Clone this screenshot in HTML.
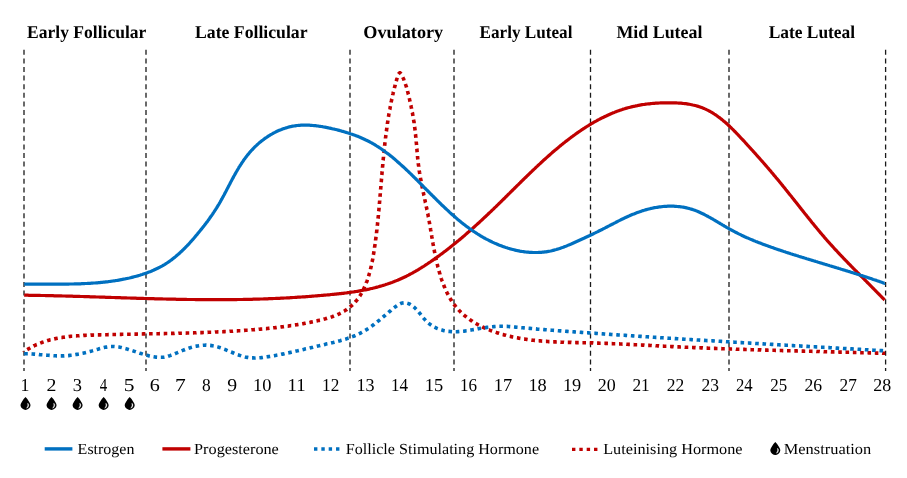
<!DOCTYPE html><html><head><meta charset="utf-8"><style>html,body{margin:0;padding:0;background:#fff;overflow:hidden}svg{display:block;will-change:transform;text-rendering:geometricPrecision}</style></head><body>
<svg width="907" height="478" viewBox="0 0 907 478">
<rect width="907" height="478" fill="#fff"/>
<line x1="24.0" y1="49.8" x2="24.0" y2="370.9" stroke="#1a1a1a" stroke-width="1.3" stroke-dasharray="5 3.6"/>
<line x1="146.0" y1="49.8" x2="146.0" y2="370.9" stroke="#1a1a1a" stroke-width="1.3" stroke-dasharray="5 3.6"/>
<line x1="350.0" y1="49.8" x2="350.0" y2="370.9" stroke="#1a1a1a" stroke-width="1.3" stroke-dasharray="5 3.6"/>
<line x1="454.0" y1="49.8" x2="454.0" y2="370.9" stroke="#1a1a1a" stroke-width="1.3" stroke-dasharray="5 3.6"/>
<line x1="590.5" y1="49.8" x2="590.5" y2="370.9" stroke="#1a1a1a" stroke-width="1.3" stroke-dasharray="5 3.6"/>
<line x1="729.0" y1="49.8" x2="729.0" y2="370.9" stroke="#1a1a1a" stroke-width="1.3" stroke-dasharray="5 3.6"/>
<line x1="885.6" y1="49.8" x2="885.6" y2="370.9" stroke="#1a1a1a" stroke-width="1.3" stroke-dasharray="5 3.6"/>
<path d="M24.0 352.3L24.2 351.7L24.7 351.3L25.2 351.0L25.7 350.6L26.2 350.3L26.8 349.9L27.3 349.6L27.8 349.3L28.3 349.0L28.8 348.6L29.4 348.3L29.9 348.0L30.4 347.7L31.0 347.4L31.5 347.1L32.0 346.9L32.6 346.6L33.1 346.3L33.6 346.0L34.2 345.8L34.7 345.5L35.2 345.2L35.8 345.0L36.3 344.7L36.9 344.5L37.4 344.3L38.0 344.0L38.5 343.8L39.1 343.6L39.6 343.3L40.2 343.1L40.7 342.9L41.3 342.7L41.8 342.5L42.4 342.3L43.0 342.1L43.5 341.9L44.1 341.7L44.6 341.5L45.2 341.3L45.8 341.2L46.3 341.0L46.9 340.8L47.5 340.6L48.0 340.5L48.6 340.3L49.2 340.2L49.7 340.0L50.3 339.8L50.9 339.7L51.5 339.6L52.0 339.4L52.6 339.3L53.2 339.1L53.8 339.0L54.3 338.9L54.9 338.7L55.5 338.6L56.1 338.5L56.7 338.4L57.2 338.3L57.8 338.2L58.4 338.1L59.0 337.9L59.6 337.8L60.2 337.7L60.7 337.6L61.3 337.5L61.9 337.5L62.5 337.4L63.1 337.3L63.7 337.2L64.3 337.1L64.9 337.0L65.5 336.9L66.1 336.9L66.6 336.8L67.2 336.7L67.8 336.7L68.4 336.6L69.0 336.5L69.6 336.5L70.2 336.4L70.8 336.3L71.4 336.3L72.0 336.2L72.6 336.2L73.2 336.1L73.8 336.1L74.4 336.0L75.0 336.0L75.6 335.9L76.2 335.9L76.8 335.8L77.4 335.8L78.0 335.7L78.6 335.7L79.2 335.7L79.8 335.6L80.4 335.6L81.0 335.6L81.6 335.5L82.2 335.5L82.8 335.5L83.4 335.4L84.0 335.4L84.6 335.4L85.2 335.4L85.8 335.3L86.4 335.3L87.0 335.3L87.7 335.3L88.3 335.2L88.9 335.2L89.5 335.2L90.1 335.2L90.7 335.1L91.3 335.1L91.9 335.1L92.5 335.1L93.1 335.1L93.7 335.0L94.3 335.0L94.9 335.0L95.5 335.0L96.1 335.0L96.7 335.0L97.3 334.9L97.9 334.9L98.5 334.9L99.1 334.9L99.7 334.9L100.3 334.9L100.9 334.8L101.5 334.8L102.1 334.8L102.8 334.8L103.4 334.8L104.0 334.8L104.6 334.7L105.2 334.7L105.8 334.7L106.4 334.7L107.0 334.7L107.6 334.7L108.2 334.6L108.8 334.6L109.4 334.6L110.0 334.6L110.6 334.6L111.2 334.6L111.8 334.6L112.4 334.5L113.0 334.5L113.6 334.5L114.2 334.5L114.8 334.5L115.4 334.5L116.0 334.5L116.6 334.5L117.2 334.4L117.8 334.4L118.4 334.4L119.0 334.4L119.6 334.4L120.2 334.4L120.8 334.4L121.4 334.4L122.0 334.3L122.6 334.3L123.2 334.3L123.8 334.3L124.4 334.3L125.0 334.3L125.6 334.3L126.2 334.3L126.8 334.2L127.4 334.2L128.0 334.2L128.6 334.2L129.2 334.2L129.8 334.2L130.4 334.2L131.0 334.2L131.6 334.2L132.2 334.1L132.8 334.1L133.4 334.1L134.0 334.1L134.6 334.1L135.2 334.1L135.8 334.1L136.4 334.1L137.0 334.1L137.6 334.0L138.2 334.0L138.8 334.0L139.4 334.0L140.0 334.0L140.6 334.0L141.2 334.0L141.8 334.0L142.4 334.0L143.0 333.9L143.6 333.9L144.2 333.9L144.8 333.9L145.4 333.9L146.0 333.9L146.6 333.9L147.2 333.9L147.8 333.9L148.4 333.9L149.0 333.8L149.6 333.8L150.2 333.8L150.8 333.8L151.4 333.8L152.0 333.8L152.6 333.8L153.2 333.8L153.8 333.8L154.4 333.7L155.0 333.7L155.6 333.7L156.2 333.7L156.8 333.7L157.4 333.7L158.0 333.7L158.6 333.7L159.2 333.7L159.8 333.6L160.4 333.6L161.0 333.6L161.6 333.6L162.2 333.6L162.7 333.6L163.3 333.6L163.9 333.6L164.5 333.6L165.1 333.5L165.7 333.5L166.3 333.5L166.9 333.5L167.5 333.5L168.1 333.5L168.7 333.5L169.3 333.5L169.9 333.4L170.5 333.4L171.1 333.4L171.7 333.4L172.3 333.4L172.9 333.4L173.5 333.4L174.1 333.4L174.7 333.3L175.3 333.3L175.9 333.3L176.5 333.3L177.1 333.3L177.7 333.3L178.3 333.3L178.9 333.2L179.5 333.2L180.1 333.2L180.7 333.2L181.3 333.2L181.9 333.2L182.5 333.2L183.1 333.1L183.7 333.1L184.3 333.1L184.9 333.1L185.5 333.1L186.1 333.1L186.7 333.0L187.3 333.0L187.9 333.0L188.5 333.0L189.0 333.0L189.6 333.0L190.2 332.9L190.8 332.9L191.4 332.9L192.0 332.9L192.6 332.9L193.2 332.9L193.8 332.8L194.4 332.8L195.0 332.8L195.6 332.8L196.2 332.8L196.8 332.7L197.4 332.7L198.0 332.7L198.6 332.7L199.2 332.7L199.8 332.6L200.4 332.6L201.0 332.6L201.6 332.6L202.2 332.6L202.8 332.5L203.4 332.5L204.0 332.5L204.6 332.5L205.2 332.5L205.8 332.4L206.4 332.4L207.0 332.4L207.6 332.4L208.2 332.3L208.8 332.3L209.4 332.3L210.0 332.3L210.6 332.2L211.2 332.2L211.8 332.2L212.4 332.2L213.0 332.1L213.6 332.1L214.2 332.1L214.8 332.1L215.4 332.0L216.0 332.0L216.6 332.0L217.2 332.0L217.8 331.9L218.3 331.9L218.9 331.9L219.5 331.8L220.1 331.8L220.7 331.8L221.3 331.8L221.9 331.7L222.5 331.7L223.1 331.7L223.7 331.6L224.3 331.6L224.9 331.6L225.5 331.5L226.1 331.5L226.7 331.5L227.3 331.5L227.9 331.4L228.5 331.4L229.1 331.4L229.7 331.3L230.3 331.3L230.9 331.3L231.5 331.2L232.1 331.2L232.7 331.2L233.3 331.1L233.9 331.1L234.5 331.0L235.1 331.0L235.7 331.0L236.3 330.9L236.9 330.9L237.5 330.9L238.1 330.8L238.7 330.8L239.3 330.7L239.9 330.7L240.5 330.7L241.1 330.6L241.7 330.6L242.3 330.5L242.9 330.5L243.5 330.5L244.1 330.4L244.7 330.4L245.3 330.3L245.9 330.3L246.5 330.2L247.1 330.2L247.7 330.2L248.3 330.1L248.9 330.1L249.5 330.0L250.1 330.0L250.7 329.9L251.3 329.9L251.9 329.8L252.5 329.8L253.1 329.7L253.7 329.7L254.3 329.6L254.9 329.6L255.5 329.5L256.1 329.5L256.7 329.4L257.3 329.4L258.0 329.3L258.6 329.3L259.2 329.2L259.8 329.2L260.4 329.1L261.0 329.1L261.6 329.0L262.2 329.0L262.8 328.9L263.4 328.9L264.0 328.8L264.6 328.8L265.2 328.7L265.8 328.6L266.4 328.6L267.0 328.5L267.6 328.5L268.2 328.4L268.8 328.3L269.4 328.3L270.0 328.2L270.6 328.2L271.2 328.1L271.8 328.0L272.4 328.0L273.0 327.9L273.6 327.8L274.2 327.8L274.8 327.7L275.4 327.6L276.0 327.6L276.6 327.5L277.2 327.4L277.8 327.4L278.4 327.3L279.0 327.2L279.6 327.2L280.2 327.1L280.8 327.0L281.4 326.9L282.0 326.9L282.6 326.8L283.2 326.7L283.8 326.6L284.4 326.5L285.0 326.5L285.6 326.4L286.2 326.3L286.8 326.2L287.4 326.1L288.0 326.1L288.6 326.0L289.2 325.9L289.8 325.8L290.4 325.7L291.0 325.6L291.6 325.6L292.2 325.5L292.7 325.4L293.3 325.3L293.9 325.2L294.5 325.1L295.1 325.0L295.7 324.9L296.3 324.8L296.9 324.7L297.5 324.6L298.1 324.5L298.7 324.4L299.3 324.3L299.9 324.2L300.4 324.1L301.0 324.0L301.6 323.9L302.2 323.8L302.8 323.7L303.4 323.6L304.0 323.5L304.6 323.4L305.2 323.3L305.7 323.2L306.3 323.1L306.9 323.0L307.5 322.8L308.1 322.7L308.7 322.6L309.3 322.5L309.8 322.4L310.4 322.3L311.0 322.1L311.6 322.0L312.2 321.9L312.8 321.8L313.3 321.7L313.9 321.5L314.5 321.4L315.1 321.3L315.6 321.1L316.2 321.0L316.8 320.9L317.4 320.8L318.0 320.6L318.5 320.5L319.1 320.4L319.7 320.2L320.3 320.1L320.8 319.9L321.4 319.8L322.0 319.7L322.6 319.5L323.1 319.4L323.7 319.2L324.3 319.1L324.8 318.9L325.4 318.8L326.0 318.6L326.5 318.5L327.1 318.3L327.7 318.2L328.2 318.0L328.8 317.8L329.4 317.7L329.9 317.5L330.5 317.3L331.1 317.1L331.6 316.9L332.2 316.7L332.7 316.5L333.3 316.3L333.9 316.1L334.4 315.9L335.0 315.7L335.5 315.5L336.1 315.3L336.6 315.0L337.2 314.8L337.8 314.5L338.3 314.3L338.9 314.0L339.4 313.8L340.0 313.5L340.5 313.2L341.1 312.9L341.6 312.6L342.1 312.3L342.7 312.0L343.2 311.7L343.7 311.4L344.3 311.1L344.8 310.7L345.3 310.4L345.8 310.1L346.4 309.7L346.9 309.4L347.4 309.0L347.9 308.6L348.4 308.3L348.9 307.9L349.4 307.5L349.8 307.1L350.3 306.7L350.8 306.3L351.3 305.9L351.7 305.5L352.2 305.1L352.6 304.7L353.1 304.3L353.5 303.9L353.9 303.5L354.3 303.0L354.7 302.6L355.1 302.2L355.5 301.7L355.9 301.3L356.3 300.8L356.7 300.4L357.1 299.9L357.4 299.4L357.8 299.0L358.1 298.5L358.5 298.0L358.8 297.5L359.1 297.1L359.4 296.6L359.8 296.1L360.1 295.6L360.4 295.1L360.7 294.6L361.0 294.1L361.3 293.6L361.6 293.1L361.8 292.6L362.1 292.1L362.4 291.6L362.7 291.0L362.9 290.5L363.2 290.0L363.4 289.5L363.7 288.9L363.9 288.4L364.2 287.9L364.4 287.3L364.7 286.8L364.9 286.3L365.1 285.7L365.4 285.2L365.6 284.6L365.8 284.1L366.0 283.5L366.2 283.0L366.4 282.4L366.7 281.9L366.9 281.3L367.1 280.8L367.3 280.2L367.5 279.6L367.6 279.1L367.8 278.5L368.0 277.9L368.2 277.4L368.4 276.8L368.6 276.2L368.7 275.7L368.9 275.1L369.1 274.5L369.2 273.9L369.4 273.4L369.6 272.8L369.7 272.2L369.9 271.6L370.0 271.0L370.2 270.4L370.3 269.9L370.5 269.3L370.6 268.7L370.8 268.1L370.9 267.5L371.1 266.9L371.2 266.3L371.3 265.7L371.5 265.1L371.6 264.5L371.7 263.9L371.8 263.3L372.0 262.7L372.1 262.1L372.2 261.6L372.3 261.0L372.4 260.4L372.6 259.8L372.7 259.2L372.8 258.6L372.9 258.0L373.0 257.4L373.1 256.8L373.2 256.2L373.3 255.5L373.4 254.9L373.5 254.3L373.6 253.7L373.7 253.1L373.8 252.5L373.9 251.9L374.0 251.3L374.1 250.7L374.2 250.1L374.3 249.5L374.4 248.9L374.5 248.3L374.6 247.7L374.6 247.1L374.7 246.5L374.8 245.9L374.9 245.3L375.0 244.7L375.1 244.1L375.2 243.5L375.2 242.9L375.3 242.3L375.4 241.7L375.5 241.1L375.6 240.5L375.6 239.9L375.7 239.3L375.8 238.7L375.9 238.1L375.9 237.5L376.0 236.9L376.1 236.3L376.2 235.8L376.2 235.2L376.3 234.6L376.4 234.0L376.5 233.4L376.5 232.8L376.6 232.2L376.7 231.6L376.7 231.0L376.8 230.4L376.9 229.8L376.9 229.2L377.0 228.6L377.1 228.0L377.1 227.4L377.2 226.8L377.3 226.2L377.3 225.7L377.4 225.1L377.5 224.5L377.5 223.9L377.6 223.3L377.6 222.7L377.7 222.1L377.8 221.5L377.8 220.9L377.9 220.3L377.9 219.7L378.0 219.1L378.1 218.5L378.1 217.9L378.2 217.4L378.2 216.8L378.3 216.2L378.4 215.6L378.4 215.0L378.5 214.4L378.5 213.8L378.6 213.2L378.6 212.6L378.7 212.0L378.7 211.4L378.8 210.8L378.8 210.3L378.9 209.7L379.0 209.1L379.0 208.5L379.1 207.9L379.1 207.3L379.2 206.7L379.2 206.1L379.3 205.5L379.3 204.9L379.4 204.3L379.4 203.7L379.5 203.1L379.5 202.5L379.6 202.0L379.6 201.4L379.7 200.8L379.7 200.2L379.8 199.6L379.8 199.0L379.9 198.4L379.9 197.8L380.0 197.2L380.0 196.6L380.1 196.0L380.1 195.4L380.2 194.8L380.2 194.2L380.3 193.6L380.3 193.0L380.4 192.4L380.4 191.8L380.5 191.2L380.5 190.6L380.6 190.1L380.6 189.5L380.7 188.9L380.7 188.3L380.8 187.7L380.8 187.1L380.9 186.5L380.9 185.9L381.0 185.3L381.0 184.7L381.1 184.1L381.1 183.5L381.2 182.9L381.2 182.3L381.3 181.7L381.3 181.1L381.4 180.5L381.4 179.9L381.5 179.3L381.5 178.7L381.6 178.1L381.6 177.5L381.7 176.9L381.7 176.3L381.8 175.7L381.8 175.1L381.9 174.5L381.9 173.9L382.0 173.3L382.0 172.7L382.1 172.1L382.1 171.5L382.2 170.9L382.2 170.3L382.3 169.7L382.3 169.1L382.4 168.5L382.5 167.9L382.5 167.3L382.6 166.7L382.6 166.1L382.7 165.5L382.7 164.9L382.8 164.3L382.8 163.7L382.9 163.1L382.9 162.5L383.0 161.9L383.1 161.3L383.1 160.7L383.2 160.1L383.2 159.5L383.3 158.9L383.3 158.3L383.4 157.7L383.5 157.1L383.5 156.5L383.6 155.9L383.6 155.3L383.7 154.7L383.8 154.1L383.8 153.5L383.9 152.9L383.9 152.3L384.0 151.7L384.1 151.1L384.1 150.5L384.2 149.9L384.3 149.3L384.3 148.7L384.4 148.1L384.5 147.5L384.5 146.9L384.6 146.3L384.6 145.7L384.7 145.1L384.8 144.5L384.8 143.9L384.9 143.3L385.0 142.7L385.1 142.1L385.1 141.5L385.2 140.9L385.3 140.3L385.3 139.7L385.4 139.2L385.5 138.6L385.5 138.0L385.6 137.4L385.7 136.8L385.8 136.2L385.8 135.6L385.9 135.0L386.0 134.4L386.1 133.8L386.1 133.2L386.2 132.6L386.3 132.0L386.4 131.4L386.5 130.8L386.5 130.2L386.6 129.6L386.7 129.0L386.8 128.4L386.9 127.8L386.9 127.2L387.0 126.6L387.1 126.1L387.2 125.5L387.3 124.9L387.4 124.3L387.4 123.7L387.5 123.1L387.6 122.5L387.7 121.9L387.8 121.3L387.9 120.7L388.0 120.1L388.1 119.5L388.2 119.0L388.3 118.4L388.4 117.8L388.4 117.2L388.5 116.6L388.6 116.0L388.7 115.4L388.8 114.8L388.9 114.2L389.0 113.6L389.1 113.1L389.2 112.5L389.3 111.9L389.4 111.3L389.5 110.7L389.6 110.1L389.8 109.5L389.9 108.9L390.0 108.4L390.1 107.8L390.2 107.2L390.3 106.6L390.4 106.0L390.5 105.4L390.6 104.8L390.7 104.3L390.9 103.7L391.0 103.1L391.1 102.5L391.2 101.9L391.3 101.3L391.5 100.7L391.6 100.2L391.7 99.6L391.8 99.0L392.0 98.4L392.1 97.8L392.2 97.2L392.3 96.7L392.5 96.1L392.6 95.5L392.7 94.9L392.9 94.3L393.0 93.8L393.1 93.2L393.3 92.6L393.4 92.0L393.6 91.4L393.7 90.9L393.8 90.3L394.0 89.7L394.1 89.1L394.3 88.5L394.4 88.0L394.6 87.4L394.7 86.8L394.9 86.2L395.0 85.6L395.2 85.1L395.3 84.5L395.5 83.9L395.7 83.3L395.8 82.7L396.0 82.1L396.2 81.5L396.4 80.8L396.5 80.2L396.7 79.5L396.9 78.8L397.1 78.2L397.3 77.5L397.5 76.8L397.8 76.1L398.0 75.5L398.2 74.9L398.4 74.3L398.7 73.9L398.9 73.5L399.2 73.2L399.5 73.0L399.7 72.9L400.0 72.9L400.3 73.1L400.6 73.3L400.9 73.7L401.2 74.1L401.5 74.6L401.8 75.1L402.1 75.7L402.4 76.4L402.7 77.0L403.0 77.7L403.3 78.3L403.6 79.0L403.8 79.6L404.1 80.3L404.3 80.9L404.6 81.5L404.8 82.2L405.0 82.8L405.2 83.4L405.4 84.0L405.6 84.6L405.8 85.1L406.0 85.7L406.2 86.3L406.4 86.9L406.5 87.4L406.7 88.0L406.9 88.6L407.0 89.1L407.2 89.7L407.3 90.3L407.5 90.8L407.6 91.4L407.8 91.9L407.9 92.5L408.1 93.1L408.2 93.6L408.3 94.2L408.5 94.7L408.6 95.3L408.7 95.9L408.9 96.4L409.0 97.0L409.2 97.6L409.3 98.2L409.4 98.7L409.6 99.3L409.7 99.9L409.8 100.4L409.9 101.0L410.1 101.6L410.2 102.2L410.3 102.8L410.5 103.3L410.6 103.9L410.7 104.5L410.8 105.1L411.0 105.7L411.1 106.3L411.2 106.9L411.3 107.4L411.4 108.0L411.6 108.6L411.7 109.2L411.8 109.8L411.9 110.4L412.0 111.0L412.1 111.6L412.2 112.2L412.4 112.7L412.5 113.3L412.6 113.9L412.7 114.5L412.8 115.1L412.9 115.7L413.0 116.3L413.1 116.9L413.2 117.5L413.3 118.1L413.4 118.7L413.5 119.3L413.6 119.9L413.7 120.5L413.8 121.1L413.9 121.7L414.0 122.2L414.1 122.8L414.1 123.4L414.2 124.0L414.3 124.6L414.4 125.2L414.5 125.8L414.6 126.4L414.7 127.0L414.7 127.6L414.8 128.2L414.9 128.8L415.0 129.4L415.0 130.0L415.1 130.6L415.2 131.2L415.2 131.8L415.3 132.4L415.4 133.0L415.4 133.6L415.5 134.2L415.6 134.8L415.6 135.3L415.7 135.9L415.7 136.5L415.8 137.1L415.9 137.7L415.9 138.3L416.0 138.9L416.0 139.5L416.1 140.1L416.1 140.7L416.2 141.3L416.2 141.9L416.3 142.5L416.4 143.1L416.4 143.7L416.5 144.3L416.5 144.9L416.6 145.5L416.6 146.1L416.7 146.7L416.7 147.3L416.8 147.9L416.8 148.5L416.9 149.0L416.9 149.6L417.0 150.2L417.0 150.8L417.1 151.4L417.1 152.0L417.2 152.6L417.2 153.2L417.3 153.8L417.3 154.4L417.4 155.0L417.5 155.6L417.5 156.2L417.6 156.8L417.6 157.4L417.7 158.0L417.7 158.6L417.8 159.2L417.9 159.8L417.9 160.4L418.0 161.0L418.1 161.6L418.1 162.1L418.2 162.7L418.3 163.3L418.3 163.9L418.4 164.5L418.5 165.1L418.6 165.7L418.7 166.3L418.7 166.9L418.8 167.5L418.9 168.1L419.0 168.7L419.1 169.3L419.2 169.9L419.2 170.5L419.3 171.1L419.4 171.7L419.5 172.3L419.6 172.8L419.7 173.4L419.8 174.0L419.9 174.6L420.0 175.2L420.1 175.8L420.2 176.4L420.3 177.0L420.4 177.6L420.5 178.2L420.6 178.8L420.7 179.4L420.9 180.0L421.0 180.6L421.1 181.2L421.2 181.8L421.3 182.3L421.4 182.9L421.5 183.5L421.6 184.1L421.8 184.7L421.9 185.3L422.0 185.9L422.1 186.5L422.2 187.1L422.3 187.7L422.5 188.3L422.6 188.9L422.7 189.5L422.8 190.0L423.0 190.6L423.1 191.2L423.2 191.8L423.3 192.4L423.4 193.0L423.6 193.6L423.7 194.2L423.8 194.8L423.9 195.4L424.1 196.0L424.2 196.6L424.3 197.1L424.4 197.7L424.6 198.3L424.7 198.9L424.8 199.5L424.9 200.1L425.1 200.7L425.2 201.3L425.3 201.9L425.4 202.5L425.6 203.0L425.7 203.6L425.8 204.2L425.9 204.8L426.1 205.4L426.2 206.0L426.3 206.6L426.4 207.2L426.6 207.8L426.7 208.3L426.8 208.9L426.9 209.5L427.1 210.1L427.2 210.7L427.3 211.3L427.4 211.9L427.5 212.5L427.6 213.1L427.8 213.6L427.9 214.2L428.0 214.8L428.1 215.4L428.2 216.0L428.3 216.6L428.5 217.2L428.6 217.8L428.7 218.3L428.8 218.9L428.9 219.5L429.0 220.1L429.1 220.7L429.2 221.3L429.3 221.9L429.4 222.4L429.5 223.0L429.6 223.6L429.7 224.2L429.8 224.8L429.9 225.4L430.0 226.0L430.1 226.5L430.2 227.1L430.3 227.7L430.4 228.3L430.5 228.9L430.6 229.5L430.7 230.0L430.8 230.6L430.9 231.2L431.0 231.8L431.1 232.4L431.2 233.0L431.3 233.6L431.4 234.1L431.5 234.7L431.6 235.3L431.7 235.9L431.8 236.5L431.9 237.1L432.0 237.6L432.1 238.2L432.2 238.8L432.3 239.4L432.4 240.0L432.5 240.6L432.6 241.1L432.7 241.7L432.8 242.3L432.9 242.9L433.0 243.5L433.1 244.1L433.2 244.6L433.3 245.2L433.4 245.8L433.5 246.4L433.7 247.0L433.8 247.6L433.9 248.1L434.0 248.7L434.1 249.3L434.2 249.9L434.3 250.5L434.4 251.1L434.5 251.7L434.6 252.2L434.8 252.8L434.9 253.4L435.0 254.0L435.1 254.6L435.2 255.2L435.4 255.7L435.5 256.3L435.6 256.9L435.7 257.5L435.8 258.1L436.0 258.7L436.1 259.2L436.2 259.8L436.4 260.4L436.5 261.0L436.6 261.6L436.8 262.2L436.9 262.8L437.0 263.3L437.2 263.9L437.3 264.5L437.5 265.1L437.6 265.7L437.8 266.3L437.9 266.9L438.1 267.4L438.2 268.0L438.4 268.6L438.5 269.2L438.7 269.8L438.9 270.4L439.0 271.0L439.2 271.5L439.4 272.1L439.5 272.7L439.7 273.3L439.9 273.9L440.0 274.5L440.2 275.1L440.4 275.7L440.6 276.2L440.8 276.8L441.0 277.4L441.2 278.0L441.3 278.6L441.5 279.2L441.7 279.8L441.9 280.3L442.1 280.9L442.4 281.5L442.6 282.1L442.8 282.7L443.0 283.2L443.2 283.8L443.4 284.4L443.6 285.0L443.9 285.5L444.1 286.1L444.3 286.7L444.6 287.3L444.8 287.8L445.0 288.4L445.3 289.0L445.5 289.5L445.8 290.1L446.0 290.6L446.3 291.2L446.6 291.7L446.8 292.3L447.1 292.9L447.4 293.4L447.6 293.9L447.9 294.5L448.2 295.0L448.5 295.6L448.8 296.1L449.1 296.6L449.3 297.2L449.6 297.7L449.9 298.2L450.3 298.7L450.6 299.2L450.9 299.7L451.2 300.3L451.5 300.8L451.8 301.3L452.2 301.8L452.5 302.3L452.8 302.7L453.2 303.2L453.5 303.7L453.9 304.2L454.2 304.7L454.6 305.1L454.9 305.6L455.3 306.1L455.7 306.5L456.0 307.0L456.4 307.4L456.8 307.9L457.2 308.3L457.6 308.8L458.0 309.2L458.4 309.6L458.8 310.1L459.2 310.5L459.6 310.9L460.0 311.3L460.4 311.7L460.8 312.2L461.2 312.6L461.6 313.0L462.1 313.4L462.5 313.8L462.9 314.1L463.4 314.5L463.8 314.9L464.3 315.3L464.7 315.7L465.2 316.0L465.6 316.4L466.1 316.8L466.5 317.1L467.0 317.5L467.4 317.9L467.9 318.2L468.4 318.6L468.9 318.9L469.3 319.2L469.8 319.6L470.3 319.9L470.8 320.3L471.3 320.6L471.8 320.9L472.2 321.2L472.7 321.6L473.2 321.9L473.7 322.2L474.2 322.5L474.7 322.8L475.3 323.1L475.8 323.4L476.3 323.7L476.8 324.0L477.3 324.3L477.8 324.6L478.3 324.8L478.9 325.1L479.4 325.4L479.9 325.7L480.5 326.0L481.0 326.2L481.5 326.5L482.1 326.7L482.6 327.0L483.1 327.3L483.7 327.5L484.2 327.8L484.8 328.0L485.3 328.3L485.9 328.5L486.4 328.7L487.0 329.0L487.5 329.2L488.1 329.4L488.6 329.7L489.2 329.9L489.7 330.1L490.3 330.3L490.9 330.6L491.4 330.8L492.0 331.0L492.6 331.2L493.1 331.4L493.7 331.6L494.3 331.8L494.8 332.0L495.4 332.2L496.0 332.4L496.6 332.6L497.1 332.8L497.7 333.0L498.3 333.1L498.9 333.3L499.5 333.5L500.0 333.7L500.6 333.9L501.2 334.0L501.8 334.2L502.4 334.4L503.0 334.5L503.5 334.7L504.1 334.9L504.7 335.0L505.3 335.2L505.9 335.3L506.5 335.5L507.1 335.6L507.7 335.8L508.2 335.9L508.8 336.1L509.4 336.2L510.0 336.3L510.6 336.5L511.2 336.6L511.8 336.7L512.4 336.9L513.0 337.0L513.6 337.1L514.2 337.2L514.7 337.4L515.3 337.5L515.9 337.6L516.5 337.7L517.1 337.8L517.7 337.9L518.3 338.0L518.9 338.2L519.5 338.3L520.1 338.4L520.7 338.5L521.3 338.6L521.9 338.7L522.4 338.8L523.0 338.9L523.6 339.0L524.2 339.0L524.8 339.1L525.4 339.2L526.0 339.3L526.6 339.4L527.2 339.5L527.8 339.6L528.4 339.6L529.0 339.7L529.6 339.8L530.2 339.9L530.8 339.9L531.3 340.0L531.9 340.1L532.5 340.2L533.1 340.2L533.7 340.3L534.3 340.4L534.9 340.4L535.5 340.5L536.1 340.5L536.7 340.6L537.3 340.7L537.9 340.7L538.5 340.8L539.1 340.8L539.7 340.9L540.3 340.9L540.9 341.0L541.5 341.0L542.1 341.1L542.6 341.1L543.2 341.2L543.8 341.2L544.4 341.3L545.0 341.3L545.6 341.4L546.2 341.4L546.8 341.4L547.4 341.5L548.0 341.5L548.6 341.6L549.2 341.6L549.8 341.6L550.4 341.7L551.0 341.7L551.6 341.7L552.2 341.8L552.8 341.8L553.4 341.8L554.0 341.9L554.6 341.9L555.2 341.9L555.8 341.9L556.4 342.0L557.0 342.0L557.6 342.0L558.1 342.0L558.7 342.1L559.3 342.1L559.9 342.1L560.5 342.1L561.1 342.2L561.7 342.2L562.3 342.2L562.9 342.2L563.5 342.2L564.1 342.3L564.7 342.3L565.3 342.3L565.9 342.3L566.5 342.3L567.1 342.3L567.7 342.4L568.3 342.4L568.9 342.4L569.5 342.4L570.1 342.4L570.7 342.4L571.3 342.4L571.9 342.5L572.5 342.5L573.1 342.5L573.7 342.5L574.3 342.5L574.9 342.5L575.5 342.5L576.1 342.6L576.7 342.6L577.3 342.6L577.9 342.6L578.5 342.6L579.1 342.6L579.7 342.6L580.3 342.6L580.9 342.7L581.5 342.7L582.1 342.7L582.7 342.7L583.3 342.7L583.9 342.7L584.5 342.7L585.1 342.8L585.7 342.8L586.3 342.8L586.9 342.8L587.5 342.8L588.1 342.8L588.7 342.8L589.2 342.9L589.8 342.9L590.4 342.9L591.0 342.9L591.6 342.9L592.2 342.9L592.8 342.9L593.4 343.0L594.0 343.0L594.6 343.0L595.2 343.0L595.8 343.0L596.4 343.1L597.0 343.1L597.6 343.1L598.2 343.1L598.8 343.1L599.4 343.2L600.0 343.2L600.6 343.2L601.2 343.2L601.8 343.2L602.4 343.3L603.0 343.3L603.6 343.3L604.2 343.3L604.8 343.3L605.4 343.4L606.0 343.4L606.6 343.4L607.2 343.4L607.8 343.5L608.4 343.5L609.0 343.5L609.6 343.5L610.2 343.6L610.8 343.6L611.4 343.6L612.0 343.6L612.6 343.7L613.2 343.7L613.8 343.7L614.4 343.7L615.0 343.8L615.6 343.8L616.2 343.8L616.8 343.8L617.4 343.9L618.0 343.9L618.6 343.9L619.2 343.9L619.8 344.0L620.4 344.0L621.0 344.0L621.6 344.0L622.2 344.1L622.8 344.1L623.4 344.1L624.0 344.2L624.6 344.2L625.2 344.2L625.8 344.2L626.4 344.3L627.1 344.3L627.7 344.3L628.3 344.4L628.9 344.4L629.5 344.4L630.1 344.4L630.7 344.5L631.3 344.5L631.9 344.5L632.5 344.6L633.1 344.6L633.7 344.6L634.3 344.7L634.9 344.7L635.5 344.7L636.1 344.7L636.7 344.8L637.3 344.8L637.9 344.8L638.5 344.9L639.1 344.9L639.7 344.9L640.3 345.0L640.9 345.0L641.5 345.0L642.1 345.1L642.7 345.1L643.3 345.1L643.9 345.1L644.5 345.2L645.1 345.2L645.7 345.2L646.3 345.3L646.9 345.3L647.5 345.3L648.1 345.4L648.7 345.4L649.3 345.4L649.9 345.5L650.5 345.5L651.1 345.5L651.7 345.5L652.3 345.6L652.9 345.6L653.5 345.6L654.1 345.7L654.7 345.7L655.3 345.7L655.9 345.8L656.5 345.8L657.1 345.8L657.7 345.9L658.3 345.9L658.9 345.9L659.5 346.0L660.1 346.0L660.7 346.0L661.3 346.0L661.9 346.1L662.5 346.1L663.1 346.1L663.7 346.2L664.3 346.2L664.9 346.2L665.5 346.3L666.1 346.3L666.7 346.3L667.3 346.3L667.9 346.4L668.5 346.4L669.1 346.4L669.7 346.5L670.3 346.5L670.9 346.5L671.5 346.6L672.1 346.6L672.7 346.6L673.3 346.6L673.9 346.7L674.5 346.7L675.1 346.7L675.7 346.8L676.3 346.8L676.9 346.8L677.5 346.8L678.1 346.9L678.7 346.9L679.3 346.9L679.9 347.0L680.5 347.0L681.1 347.0L681.7 347.0L682.3 347.1L682.9 347.1L683.5 347.1L684.1 347.1L684.7 347.2L685.3 347.2L685.9 347.2L686.5 347.3L687.1 347.3L687.7 347.3L688.3 347.3L688.9 347.4L689.5 347.4L690.1 347.4L690.7 347.4L691.3 347.5L691.9 347.5L692.5 347.5L693.1 347.5L693.7 347.6L694.3 347.6L694.9 347.6L695.5 347.6L696.1 347.7L696.7 347.7L697.3 347.7L697.9 347.7L698.5 347.8L699.1 347.8L699.7 347.8L700.3 347.8L700.9 347.9L701.5 347.9L702.1 347.9L702.7 347.9L703.3 348.0L703.9 348.0L704.5 348.0L705.1 348.0L705.7 348.1L706.3 348.1L706.9 348.1L707.5 348.1L708.1 348.2L708.7 348.2L709.3 348.2L709.9 348.2L710.5 348.2L711.1 348.3L711.7 348.3L712.3 348.3L712.9 348.3L713.5 348.4L714.1 348.4L714.7 348.4L715.3 348.4L715.9 348.5L716.5 348.5L717.1 348.5L717.7 348.5L718.3 348.5L718.9 348.6L719.5 348.6L720.1 348.6L720.7 348.6L721.3 348.6L721.9 348.7L722.5 348.7L723.1 348.7L723.7 348.7L724.3 348.8L724.9 348.8L725.5 348.8L726.1 348.8L726.7 348.8L727.3 348.9L727.9 348.9L728.5 348.9L729.1 348.9L729.7 348.9L730.3 349.0L730.9 349.0L731.5 349.0L732.1 349.0L732.7 349.0L733.3 349.1L733.9 349.1L734.5 349.1L735.1 349.1L735.7 349.1L736.2 349.2L736.8 349.2L737.4 349.2L738.0 349.2L738.6 349.2L739.2 349.3L739.8 349.3L740.4 349.3L741.0 349.3L741.6 349.3L742.2 349.4L742.8 349.4L743.4 349.4L744.0 349.4L744.6 349.4L745.2 349.5L745.8 349.5L746.4 349.5L747.0 349.5L747.6 349.5L748.2 349.6L748.8 349.6L749.4 349.6L750.0 349.6L750.6 349.6L751.2 349.7L751.8 349.7L752.4 349.7L753.0 349.7L753.6 349.7L754.2 349.7L754.8 349.8L755.4 349.8L756.0 349.8L756.6 349.8L757.2 349.8L757.8 349.9L758.4 349.9L759.0 349.9L759.6 349.9L760.2 349.9L760.8 349.9L761.4 350.0L762.0 350.0L762.6 350.0L763.2 350.0L763.8 350.0L764.4 350.0L765.0 350.1L765.6 350.1L766.2 350.1L766.8 350.1L767.4 350.1L768.0 350.2L768.6 350.2L769.2 350.2L769.8 350.2L770.4 350.2L771.0 350.2L771.6 350.3L772.2 350.3L772.8 350.3L773.4 350.3L774.0 350.3L774.6 350.3L775.2 350.4L775.8 350.4L776.4 350.4L777.0 350.4L777.6 350.4L778.2 350.4L778.8 350.5L779.4 350.5L780.0 350.5L780.6 350.5L781.2 350.5L781.8 350.5L782.4 350.6L783.0 350.6L783.6 350.6L784.2 350.6L784.8 350.6L785.4 350.6L786.0 350.7L786.6 350.7L787.2 350.7L787.8 350.7L788.4 350.7L789.0 350.7L789.6 350.8L790.2 350.8L790.8 350.8L791.4 350.8L792.0 350.8L792.6 350.8L793.2 350.8L793.8 350.9L794.4 350.9L795.0 350.9L795.6 350.9L796.2 350.9L796.8 350.9L797.4 351.0L797.9 351.0L798.5 351.0L799.1 351.0L799.7 351.0L800.3 351.0L800.9 351.1L801.5 351.1L802.1 351.1L802.7 351.1L803.3 351.1L803.9 351.1L804.5 351.2L805.1 351.2L805.7 351.2L806.3 351.2L806.9 351.2L807.5 351.2L808.1 351.2L808.7 351.3L809.3 351.3L809.9 351.3L810.5 351.3L811.1 351.3L811.7 351.3L812.3 351.4L812.9 351.4L813.5 351.4L814.1 351.4L814.7 351.4L815.3 351.4L815.9 351.4L816.5 351.5L817.1 351.5L817.7 351.5L818.3 351.5L818.9 351.5L819.5 351.5L820.1 351.6L820.7 351.6L821.3 351.6L821.9 351.6L822.5 351.6L823.1 351.6L823.7 351.7L824.3 351.7L824.9 351.7L825.5 351.7L826.1 351.7L826.7 351.7L827.3 351.7L827.9 351.8L828.5 351.8L829.1 351.8L829.7 351.8L830.3 351.8L830.9 351.8L831.5 351.9L832.1 351.9L832.7 351.9L833.3 351.9L833.9 351.9L834.5 351.9L835.1 351.9L835.7 352.0L836.3 352.0L836.9 352.0L837.5 352.0L838.1 352.0L838.7 352.0L839.3 352.1L839.9 352.1L840.5 352.1L841.1 352.1L841.7 352.1L842.3 352.1L842.9 352.2L843.5 352.2L844.1 352.2L844.7 352.2L845.3 352.2L845.9 352.2L846.5 352.2L847.1 352.3L847.7 352.3L848.3 352.3L848.9 352.3L849.5 352.3L850.1 352.3L850.7 352.4L851.3 352.4L851.9 352.4L852.5 352.4L853.1 352.4L853.7 352.4L854.3 352.5L854.9 352.5L855.5 352.5L856.1 352.5L856.7 352.5L857.3 352.5L857.9 352.6L858.5 352.6L859.1 352.6L859.7 352.6L860.3 352.6L860.9 352.6L861.5 352.7L862.1 352.7L862.7 352.7L863.3 352.7L863.9 352.7L864.5 352.7L865.1 352.8L865.7 352.8L866.3 352.8L866.9 352.8L867.5 352.8L868.1 352.8L868.7 352.9L869.3 352.9L869.9 352.9L870.5 352.9L871.1 352.9L871.7 352.9L872.3 353.0L872.9 353.0L873.5 353.0L874.1 353.0L874.7 353.0L875.3 353.0L876.0 353.1L876.6 353.1L877.2 353.1L877.8 353.1L878.4 353.1L879.0 353.1L879.6 353.2L880.2 353.2L880.8 353.2L881.4 353.2L882.0 353.2L882.6 353.3L883.2 353.3L883.8 353.3L884.4 353.3L885.0 353.3L885.2 353.3" fill="none" stroke="#C00000" stroke-width="3.6" stroke-dasharray="3.6 3.73" stroke-dashoffset="3.07"/>
<path d="M24.2 353.7L25.3 353.7L26.5 353.7L27.8 353.7L29.0 353.8L30.2 353.8L31.4 353.9L32.6 354.0L33.8 354.1L35.0 354.1L36.2 354.2L37.4 354.3L38.6 354.4L39.8 354.6L41.0 354.7L42.2 354.8L43.5 354.9L44.7 355.0L45.9 355.1L47.1 355.2L48.3 355.3L49.5 355.4L50.7 355.5L51.8 355.6L53.0 355.7L54.2 355.8L55.4 355.8L56.6 355.9L57.8 355.9L59.0 355.9L60.2 355.9L61.4 355.9L62.6 355.9L63.8 355.9L65.0 355.8L66.2 355.7L67.3 355.7L68.5 355.6L69.7 355.4L70.9 355.3L72.1 355.2L73.3 355.0L74.5 354.8L75.6 354.6L76.8 354.4L78.0 354.2L79.2 354.0L80.4 353.8L81.5 353.5L82.7 353.3L83.9 353.0L85.1 352.7L86.3 352.4L87.4 352.1L88.6 351.8L89.8 351.5L91.0 351.2L92.1 350.9L93.3 350.5L94.5 350.2L95.7 349.8L96.8 349.5L98.0 349.2L99.2 348.8L100.3 348.5L101.5 348.2L102.7 347.9L103.9 347.6L105.0 347.3L106.2 347.1L107.4 346.9L108.5 346.7L109.7 346.6L110.9 346.5L112.0 346.5L113.2 346.5L114.4 346.5L115.5 346.6L116.7 346.7L117.9 346.9L119.0 347.0L120.2 347.3L121.4 347.5L122.5 347.8L123.7 348.1L124.8 348.4L126.0 348.7L127.2 349.1L128.3 349.4L129.5 349.8L130.6 350.1L131.8 350.5L133.0 350.9L134.1 351.3L135.3 351.6L136.4 352.0L137.6 352.4L138.8 352.8L139.9 353.2L141.1 353.5L142.2 353.9L143.4 354.3L144.6 354.6L145.7 355.0L146.9 355.3L148.0 355.6L149.2 355.9L150.3 356.1L151.5 356.4L152.6 356.6L153.8 356.8L155.0 357.0L156.1 357.1L157.3 357.2L158.4 357.3L159.6 357.3L160.7 357.3L161.9 357.3L163.0 357.2L164.2 357.1L165.3 356.9L166.5 356.6L167.7 356.4L168.8 356.0L170.0 355.6L171.1 355.2L172.3 354.8L173.4 354.3L174.6 353.9L175.7 353.4L176.9 352.9L178.0 352.4L179.2 351.9L180.3 351.4L181.5 350.9L182.7 350.4L183.8 350.0L185.0 349.5L186.1 349.1L187.3 348.7L188.4 348.3L189.6 347.9L190.7 347.6L191.9 347.2L193.0 346.9L194.2 346.6L195.3 346.3L196.5 346.1L197.6 345.9L198.8 345.7L199.9 345.5L201.1 345.4L202.3 345.3L203.4 345.2L204.6 345.2L205.7 345.1L206.9 345.2L208.0 345.2L209.2 345.3L210.3 345.4L211.5 345.6L212.6 345.8L213.8 346.0L215.0 346.2L216.1 346.5L217.3 346.8L218.4 347.1L219.6 347.5L220.7 347.9L221.9 348.3L223.0 348.7L224.2 349.2L225.4 349.6L226.5 350.1L227.7 350.6L228.8 351.1L230.0 351.6L231.1 352.0L232.3 352.5L233.5 353.0L234.6 353.5L235.8 353.9L236.9 354.4L238.1 354.8L239.3 355.3L240.4 355.6L241.6 356.0L242.7 356.4L243.9 356.7L245.1 357.0L246.2 357.2L247.4 357.4L248.5 357.6L249.7 357.7L250.9 357.8L252.0 357.9L253.2 357.9L254.4 358.0L255.5 358.0L256.7 357.9L257.9 357.9L259.0 357.8L260.2 357.7L261.4 357.6L262.5 357.5L263.7 357.3L264.8 357.2L266.0 357.0L267.2 356.8L268.4 356.6L269.5 356.5L270.7 356.3L271.9 356.1L273.0 355.9L274.2 355.7L275.4 355.4L276.5 355.2L277.7 355.0L278.9 354.8L280.0 354.6L281.2 354.3L282.4 354.1L283.6 353.9L284.7 353.6L285.9 353.4L287.1 353.1L288.3 352.9L289.4 352.6L290.6 352.4L291.8 352.1L293.0 351.8L294.1 351.6L295.3 351.3L296.5 351.0L297.7 350.8L298.9 350.5L300.0 350.2L301.2 349.9L302.4 349.7L303.6 349.4L304.8 349.1L305.9 348.8L307.1 348.6L308.3 348.3L309.5 348.0L310.7 347.7L311.8 347.4L313.0 347.2L314.2 346.9L315.4 346.6L316.6 346.3L317.8 346.0L319.0 345.8L320.2 345.5L321.3 345.2L322.5 344.9L323.7 344.7L324.9 344.4L326.1 344.1L327.3 343.8L328.5 343.6L329.7 343.3L330.8 343.0L332.0 342.7L333.2 342.5L334.4 342.2L335.5 341.9L336.7 341.6L337.9 341.3L339.0 341.0L340.2 340.7L341.4 340.3L342.5 340.0L343.6 339.7L344.8 339.3L345.9 339.0L347.0 338.6L348.1 338.2L349.3 337.9L350.4 337.5L351.4 337.1L352.5 336.7L353.6 336.2L354.7 335.8L355.7 335.3L356.8 334.9L357.8 334.4L358.9 333.9L359.9 333.4L360.9 332.9L361.9 332.3L362.9 331.8L363.9 331.2L364.9 330.6L365.9 330.0L366.9 329.4L367.9 328.7L368.9 328.1L369.9 327.4L370.9 326.7L371.9 326.0L372.9 325.2L373.9 324.5L374.8 323.7L375.8 323.0L376.8 322.2L377.8 321.4L378.8 320.6L379.8 319.8L380.7 319.0L381.7 318.2L382.7 317.3L383.7 316.5L384.7 315.7L385.6 314.8L386.6 314.0L387.6 313.2L388.6 312.3L389.6 311.5L390.6 310.7L391.5 309.8L392.5 309.0L393.5 308.2L394.5 307.4L395.5 306.7L396.5 306.0L397.5 305.3L398.5 304.7L399.4 304.2L400.4 303.7L401.4 303.3L402.4 303.1L403.4 302.9L404.4 302.8L405.4 302.9L406.4 303.0L407.4 303.3L408.4 303.6L409.4 304.0L410.4 304.5L411.3 305.1L412.3 305.8L413.2 306.5L414.1 307.2L415.0 308.0L415.9 308.9L416.8 309.8L417.6 310.7L418.4 311.7L419.2 312.7L420.0 313.7L420.8 314.7L421.6 315.7L422.4 316.7L423.2 317.6L424.0 318.6L424.9 319.6L425.7 320.5L426.6 321.4L427.5 322.2L428.4 323.0L429.4 323.8L430.3 324.5L431.3 325.2L432.3 325.9L433.4 326.5L434.4 327.1L435.5 327.6L436.5 328.1L437.6 328.6L438.7 329.0L439.8 329.4L440.9 329.8L442.1 330.1L443.2 330.4L444.3 330.7L445.4 330.9L446.6 331.1L447.7 331.3L448.9 331.4L450.0 331.5L451.2 331.6L452.3 331.7L453.5 331.7L454.7 331.7L455.8 331.7L457.0 331.7L458.2 331.6L459.3 331.5L460.5 331.4L461.7 331.3L462.9 331.2L464.1 331.1L465.2 330.9L466.4 330.7L467.6 330.6L468.8 330.4L470.0 330.2L471.2 330.0L472.4 329.8L473.6 329.6L474.8 329.4L476.0 329.2L477.2 329.0L478.4 328.7L479.6 328.5L480.8 328.3L482.0 328.1L483.2 327.9L484.4 327.7L485.6 327.6L486.8 327.4L488.0 327.2L489.2 327.1L490.4 326.9L491.6 326.8L492.8 326.7L494.0 326.6L495.2 326.5L496.4 326.4L497.6 326.4L498.8 326.3L500.0 326.3L501.2 326.3L502.4 326.3L503.6 326.3L504.8 326.3L506.0 326.4L507.2 326.4L508.4 326.5L509.6 326.6L510.8 326.7L512.0 326.8L513.2 326.9L514.4 327.0L515.6 327.1L516.8 327.2L518.0 327.3L519.2 327.5L520.4 327.6L521.6 327.7L522.8 327.8L524.0 327.9L525.2 328.0L526.4 328.1L527.6 328.2L528.8 328.3L530.0 328.4L531.2 328.5L532.4 328.6L533.6 328.7L534.8 328.8L536.0 328.9L537.1 329.1L538.3 329.2L539.5 329.3L540.7 329.4L541.9 329.4L543.1 329.5L544.3 329.6L545.5 329.7L546.7 329.8L547.9 329.9L549.1 330.0L550.3 330.1L551.5 330.2L552.7 330.3L553.9 330.4L555.1 330.5L556.3 330.6L557.5 330.7L558.7 330.8L559.9 330.9L561.1 330.9L562.3 331.0L563.5 331.1L564.7 331.2L565.9 331.3L567.1 331.4L568.3 331.5L569.5 331.6L570.7 331.7L571.9 331.7L573.1 331.8L574.3 331.9L575.5 332.0L576.7 332.1L577.9 332.2L579.1 332.2L580.3 332.3L581.5 332.4L582.7 332.5L583.9 332.6L585.1 332.7L586.3 332.8L587.5 332.8L588.6 332.9L589.8 333.0L591.0 333.1L592.2 333.2L593.4 333.3L594.6 333.3L595.8 333.4L597.0 333.5L598.2 333.6L599.4 333.7L600.6 333.7L601.8 333.8L603.0 333.9L604.2 334.0L605.4 334.1L606.6 334.1L607.8 334.2L609.0 334.3L610.2 334.4L611.4 334.5L612.6 334.6L613.8 334.6L615.0 334.7L616.2 334.8L617.4 334.9L618.6 335.0L619.8 335.0L621.0 335.1L622.1 335.2L623.3 335.3L624.5 335.3L625.7 335.4L626.9 335.5L628.1 335.6L629.3 335.7L630.5 335.7L631.7 335.8L632.9 335.9L634.1 336.0L635.3 336.1L636.5 336.1L637.7 336.2L638.9 336.3L640.1 336.4L641.3 336.4L642.5 336.5L643.7 336.6L644.9 336.7L646.1 336.8L647.3 336.8L648.5 336.9L649.7 337.0L650.9 337.1L652.0 337.1L653.2 337.2L654.4 337.3L655.6 337.4L656.8 337.4L658.0 337.5L659.2 337.6L660.4 337.7L661.6 337.7L662.8 337.8L664.0 337.9L665.2 338.0L666.4 338.0L667.6 338.1L668.8 338.2L670.0 338.3L671.2 338.3L672.4 338.4L673.6 338.5L674.8 338.6L676.0 338.6L677.2 338.7L678.4 338.8L679.5 338.9L680.7 338.9L681.9 339.0L683.1 339.1L684.3 339.2L685.5 339.2L686.7 339.3L687.9 339.4L689.1 339.5L690.3 339.5L691.5 339.6L692.7 339.7L693.9 339.8L695.1 339.8L696.3 339.9L697.5 340.0L698.7 340.0L699.9 340.1L701.1 340.2L702.3 340.3L703.5 340.3L704.7 340.4L705.9 340.5L707.1 340.6L708.2 340.6L709.4 340.7L710.6 340.8L711.8 340.8L713.0 340.9L714.2 341.0L715.4 341.1L716.6 341.1L717.8 341.2L719.0 341.3L720.2 341.3L721.4 341.4L722.6 341.5L723.8 341.6L725.0 341.6L726.2 341.7L727.4 341.8L728.6 341.8L729.8 341.9L731.0 342.0L732.2 342.1L733.4 342.1L734.6 342.2L735.8 342.3L737.0 342.3L738.2 342.4L739.3 342.5L740.5 342.6L741.7 342.6L742.9 342.7L744.1 342.8L745.3 342.8L746.5 342.9L747.7 343.0L748.9 343.0L750.1 343.1L751.3 343.2L752.5 343.3L753.7 343.3L754.9 343.4L756.1 343.5L757.3 343.5L758.5 343.6L759.7 343.7L760.9 343.7L762.1 343.8L763.3 343.9L764.5 344.0L765.7 344.0L766.9 344.1L768.1 344.2L769.3 344.2L770.5 344.3L771.7 344.4L772.9 344.4L774.1 344.5L775.3 344.6L776.5 344.6L777.6 344.7L778.8 344.8L780.0 344.9L781.2 344.9L782.4 345.0L783.6 345.1L784.8 345.1L786.0 345.2L787.2 345.3L788.4 345.3L789.6 345.4L790.8 345.5L792.0 345.5L793.2 345.6L794.4 345.7L795.6 345.7L796.8 345.8L798.0 345.9L799.2 345.9L800.4 346.0L801.6 346.1L802.8 346.2L804.0 346.2L805.2 346.3L806.4 346.4L807.6 346.4L808.8 346.5L810.0 346.6L811.2 346.6L812.4 346.7L813.6 346.8L814.8 346.8L816.0 346.9L817.2 347.0L818.4 347.0L819.6 347.1L820.8 347.2L822.0 347.2L823.2 347.3L824.4 347.4L825.6 347.4L826.8 347.5L828.0 347.6L829.2 347.6L830.4 347.7L831.6 347.8L832.8 347.9L834.0 347.9L835.2 348.0L836.4 348.1L837.6 348.1L838.8 348.2L840.0 348.3L841.2 348.3L842.4 348.4L843.6 348.5L844.8 348.5L846.0 348.6L847.2 348.7L848.4 348.7L849.6 348.8L850.8 348.9L852.0 348.9L853.2 349.0L854.4 349.1L855.6 349.1L856.8 349.2L858.0 349.3L859.2 349.3L860.4 349.4L861.6 349.5L862.8 349.5L864.0 349.6L865.2 349.7L866.4 349.7L867.6 349.8L868.8 349.9L870.0 349.9L871.2 350.0L872.4 350.1L873.6 350.2L874.8 350.2L876.0 350.3L877.2 350.4L878.4 350.4L879.6 350.5L880.8 350.6L882.0 350.6L883.2 350.7L884.4 350.8L885.2 350.8" fill="none" stroke="#0070C0" stroke-width="3.6" stroke-dasharray="3.6 3.73"/>
<path d="M24.2 295.1L25.4 295.2L26.6 295.2L27.8 295.2L29.0 295.3L30.2 295.3L31.4 295.3L32.6 295.3L33.8 295.3L35.0 295.4L36.2 295.4L37.4 295.4L38.6 295.4L39.8 295.4L41.0 295.5L42.2 295.5L43.4 295.5L44.6 295.5L45.8 295.6L47.0 295.6L48.2 295.6L49.4 295.6L50.6 295.7L51.8 295.7L53.0 295.7L54.2 295.8L55.4 295.8L56.6 295.8L57.8 295.8L59.0 295.9L60.2 295.9L61.4 295.9L62.6 296.0L63.8 296.0L65.0 296.0L66.2 296.1L67.4 296.1L68.6 296.1L69.8 296.2L71.0 296.2L72.2 296.2L73.4 296.3L74.6 296.3L75.8 296.3L77.0 296.4L78.2 296.4L79.4 296.4L80.6 296.5L81.8 296.5L83.0 296.5L84.2 296.6L85.4 296.6L86.6 296.7L87.8 296.7L89.0 296.7L90.2 296.8L91.4 296.8L92.6 296.8L93.8 296.9L95.0 296.9L96.2 297.0L97.4 297.0L98.6 297.0L99.8 297.1L101.0 297.1L102.2 297.2L103.4 297.2L104.6 297.2L105.8 297.3L107.0 297.3L108.2 297.3L109.4 297.4L110.6 297.4L111.8 297.5L113.0 297.5L114.2 297.5L115.4 297.6L116.6 297.6L117.8 297.7L119.0 297.7L120.2 297.7L121.4 297.8L122.6 297.8L123.8 297.8L125.0 297.9L126.2 297.9L127.4 298.0L128.6 298.0L129.8 298.0L131.0 298.1L132.2 298.1L133.4 298.1L134.6 298.2L135.8 298.2L137.0 298.3L138.2 298.3L139.4 298.3L140.6 298.4L141.8 298.4L143.0 298.4L144.2 298.5L145.4 298.5L146.6 298.5L147.8 298.6L149.0 298.6L150.2 298.6L151.4 298.7L152.6 298.7L153.7 298.7L154.9 298.8L156.1 298.8L157.3 298.8L158.5 298.9L159.7 298.9L160.9 298.9L162.1 298.9L163.3 299.0L164.5 299.0L165.7 299.0L166.9 299.1L168.1 299.1L169.3 299.1L170.5 299.1L171.7 299.2L172.9 299.2L174.1 299.2L175.3 299.2L176.5 299.3L177.7 299.3L178.9 299.3L180.1 299.3L181.3 299.4L182.5 299.4L183.7 299.4L184.9 299.4L186.1 299.4L187.3 299.5L188.5 299.5L189.7 299.5L190.9 299.5L192.1 299.5L193.3 299.5L194.5 299.5L195.7 299.6L196.9 299.6L198.1 299.6L199.3 299.6L200.5 299.6L201.7 299.6L202.9 299.6L204.1 299.6L205.3 299.6L206.5 299.7L207.7 299.7L208.9 299.7L210.1 299.7L211.3 299.7L212.5 299.7L213.7 299.7L214.9 299.7L216.1 299.7L217.3 299.7L218.5 299.7L219.7 299.7L220.9 299.7L222.1 299.7L223.3 299.7L224.5 299.7L225.7 299.7L226.9 299.7L228.1 299.6L229.3 299.6L230.5 299.6L231.7 299.6L232.9 299.6L234.1 299.6L235.3 299.6L236.5 299.6L237.7 299.5L238.9 299.5L240.1 299.5L241.3 299.5L242.5 299.5L243.7 299.4L244.9 299.4L246.1 299.4L247.3 299.4L248.5 299.4L249.7 299.3L250.9 299.3L252.1 299.3L253.3 299.2L254.5 299.2L255.7 299.2L256.9 299.1L258.1 299.1L259.3 299.1L260.5 299.0L261.7 299.0L262.9 299.0L264.1 298.9L265.3 298.9L266.5 298.8L267.7 298.8L268.9 298.7L270.1 298.7L271.3 298.6L272.5 298.6L273.7 298.5L274.9 298.5L276.1 298.4L277.3 298.4L278.5 298.3L279.7 298.3L280.9 298.2L282.1 298.1L283.3 298.1L284.5 298.0L285.7 298.0L286.9 297.9L288.1 297.8L289.3 297.8L290.6 297.7L291.8 297.6L293.0 297.5L294.2 297.5L295.4 297.4L296.6 297.3L297.8 297.2L299.0 297.2L300.2 297.1L301.4 297.0L302.6 296.9L303.8 296.8L305.0 296.8L306.2 296.7L307.4 296.6L308.6 296.5L309.8 296.4L311.0 296.3L312.2 296.2L313.4 296.1L314.6 296.0L315.8 295.9L317.0 295.8L318.2 295.7L319.4 295.6L320.6 295.5L321.7 295.4L322.9 295.3L324.1 295.2L325.3 295.1L326.5 295.0L327.7 294.9L328.9 294.8L330.1 294.7L331.3 294.5L332.5 294.4L333.7 294.3L334.9 294.2L336.1 294.1L337.3 293.9L338.4 293.8L339.6 293.7L340.8 293.6L342.0 293.4L343.2 293.3L344.4 293.1L345.6 293.0L346.7 292.9L347.9 292.7L349.1 292.5L350.3 292.4L351.5 292.2L352.7 292.0L353.8 291.9L355.0 291.7L356.2 291.5L357.4 291.3L358.5 291.1L359.7 290.9L360.9 290.7L362.1 290.5L363.2 290.3L364.4 290.0L365.6 289.8L366.8 289.6L367.9 289.3L369.1 289.1L370.3 288.8L371.4 288.5L372.6 288.3L373.7 288.0L374.9 287.7L376.1 287.4L377.2 287.1L378.4 286.8L379.5 286.4L380.7 286.1L381.8 285.8L383.0 285.4L384.1 285.1L385.3 284.7L386.4 284.3L387.5 284.0L388.7 283.6L389.8 283.2L390.9 282.8L392.1 282.4L393.2 281.9L394.3 281.5L395.4 281.1L396.5 280.6L397.6 280.2L398.7 279.7L399.8 279.2L400.9 278.7L402.0 278.2L403.1 277.7L404.2 277.2L405.3 276.7L406.4 276.2L407.5 275.6L408.5 275.1L409.6 274.5L410.7 273.9L411.7 273.4L412.8 272.8L413.8 272.2L414.9 271.6L415.9 271.0L417.0 270.4L418.0 269.8L419.1 269.1L420.1 268.5L421.1 267.9L422.1 267.2L423.2 266.6L424.2 266.0L425.2 265.3L426.2 264.6L427.2 264.0L428.2 263.3L429.2 262.6L430.2 262.0L431.2 261.3L432.2 260.6L433.2 259.9L434.2 259.2L435.2 258.5L436.2 257.8L437.1 257.1L438.1 256.4L439.1 255.7L440.0 255.0L441.0 254.3L442.0 253.6L442.9 252.9L443.9 252.1L444.8 251.4L445.8 250.7L446.7 250.0L447.7 249.2L448.6 248.5L449.6 247.8L450.5 247.0L451.4 246.3L452.4 245.5L453.3 244.8L454.2 244.1L455.2 243.3L456.1 242.5L457.0 241.8L457.9 241.0L458.9 240.3L459.8 239.5L460.7 238.7L461.6 238.0L462.5 237.2L463.4 236.4L464.3 235.7L465.2 234.9L466.1 234.1L467.0 233.3L467.9 232.5L468.8 231.8L469.7 231.0L470.6 230.2L471.5 229.4L472.4 228.6L473.3 227.8L474.2 227.0L475.0 226.2L475.9 225.4L476.8 224.6L477.7 223.8L478.6 223.0L479.5 222.2L480.3 221.4L481.2 220.6L482.1 219.8L483.0 218.9L483.8 218.1L484.7 217.3L485.6 216.5L486.4 215.7L487.3 214.9L488.2 214.0L489.0 213.2L489.9 212.4L490.8 211.6L491.6 210.7L492.5 209.9L493.4 209.1L494.2 208.2L495.1 207.4L496.0 206.6L496.8 205.7L497.7 204.9L498.5 204.1L499.4 203.2L500.3 202.4L501.1 201.5L502.0 200.7L502.8 199.9L503.7 199.0L504.6 198.2L505.4 197.3L506.3 196.5L507.1 195.6L508.0 194.8L508.8 193.9L509.7 193.1L510.6 192.2L511.4 191.4L512.3 190.5L513.1 189.7L514.0 188.8L514.8 188.0L515.7 187.1L516.6 186.3L517.4 185.4L518.3 184.6L519.1 183.7L520.0 182.9L520.9 182.0L521.7 181.2L522.6 180.3L523.5 179.5L524.3 178.6L525.2 177.8L526.1 177.0L526.9 176.1L527.8 175.3L528.7 174.4L529.5 173.6L530.4 172.7L531.3 171.9L532.1 171.1L533.0 170.2L533.9 169.4L534.8 168.6L535.6 167.7L536.5 166.9L537.4 166.1L538.3 165.2L539.2 164.4L540.1 163.6L540.9 162.8L541.8 162.0L542.7 161.1L543.6 160.3L544.5 159.5L545.4 158.7L546.3 157.9L547.2 157.1L548.1 156.3L549.0 155.5L549.9 154.7L550.8 153.9L551.7 153.1L552.6 152.3L553.5 151.5L554.4 150.7L555.3 150.0L556.3 149.2L557.2 148.4L558.1 147.7L559.0 146.9L559.9 146.1L560.9 145.4L561.8 144.6L562.7 143.9L563.7 143.1L564.6 142.4L565.5 141.6L566.5 140.9L567.4 140.2L568.4 139.4L569.3 138.7L570.3 138.0L571.2 137.3L572.2 136.6L573.1 135.9L574.1 135.2L575.1 134.5L576.0 133.8L577.0 133.1L578.0 132.4L579.0 131.7L580.0 131.1L580.9 130.4L581.9 129.7L582.9 129.1L583.9 128.4L584.9 127.8L585.9 127.1L586.9 126.5L587.9 125.9L588.9 125.3L589.9 124.6L591.0 124.0L592.0 123.4L593.0 122.8L594.0 122.2L595.1 121.6L596.1 121.1L597.1 120.5L598.2 119.9L599.2 119.4L600.3 118.8L601.3 118.3L602.4 117.7L603.5 117.2L604.5 116.7L605.6 116.2L606.7 115.7L607.7 115.2L608.8 114.7L609.9 114.2L611.0 113.7L612.1 113.3L613.2 112.8L614.3 112.4L615.4 111.9L616.5 111.5L617.7 111.1L618.8 110.7L619.9 110.3L621.0 109.9L622.2 109.5L623.3 109.1L624.5 108.8L625.6 108.4L626.8 108.1L627.9 107.8L629.1 107.5L630.3 107.2L631.4 106.9L632.6 106.6L633.8 106.3L635.0 106.1L636.2 105.8L637.4 105.6L638.6 105.3L639.8 105.1L641.0 104.9L642.2 104.7L643.4 104.5L644.6 104.4L645.8 104.2L647.0 104.0L648.2 103.9L649.5 103.8L650.7 103.6L651.9 103.5L653.1 103.4L654.4 103.3L655.6 103.2L656.8 103.1L658.0 103.1L659.3 103.0L660.5 102.9L661.7 102.9L662.9 102.9L664.2 102.8L665.4 102.8L666.6 102.8L667.8 102.8L669.1 102.8L670.3 102.8L671.5 102.8L672.7 102.8L673.9 102.8L675.1 102.9L676.3 102.9L677.5 103.0L678.7 103.1L679.9 103.1L681.1 103.2L682.3 103.3L683.5 103.5L684.7 103.6L685.8 103.7L687.0 103.9L688.2 104.1L689.3 104.3L690.5 104.5L691.6 104.7L692.8 105.0L693.9 105.2L695.1 105.5L696.2 105.8L697.3 106.1L698.4 106.4L699.5 106.8L700.6 107.2L701.7 107.6L702.8 108.0L703.9 108.4L704.9 108.9L706.0 109.4L707.0 109.9L708.1 110.4L709.1 111.0L710.2 111.5L711.2 112.1L712.2 112.7L713.2 113.3L714.2 114.0L715.2 114.6L716.2 115.3L717.2 116.0L718.1 116.7L719.1 117.4L720.1 118.1L721.0 118.9L722.0 119.6L722.9 120.4L723.8 121.2L724.8 121.9L725.7 122.7L726.6 123.5L727.5 124.4L728.4 125.2L729.3 126.0L730.2 126.9L731.1 127.7L731.9 128.6L732.8 129.4L733.7 130.3L734.5 131.2L735.4 132.0L736.2 132.9L737.1 133.8L737.9 134.7L738.8 135.6L739.6 136.5L740.4 137.4L741.3 138.3L742.1 139.1L742.9 140.0L743.8 140.9L744.6 141.8L745.4 142.7L746.2 143.6L747.0 144.5L747.8 145.4L748.7 146.3L749.5 147.2L750.3 148.1L751.1 149.0L751.9 149.9L752.7 150.7L753.5 151.6L754.3 152.5L755.1 153.4L755.9 154.3L756.7 155.2L757.5 156.1L758.3 157.0L759.1 157.9L759.9 158.8L760.7 159.7L761.4 160.5L762.2 161.4L763.0 162.3L763.8 163.2L764.6 164.1L765.4 165.0L766.1 165.9L766.9 166.8L767.7 167.7L768.5 168.6L769.2 169.5L770.0 170.4L770.8 171.3L771.5 172.2L772.3 173.1L773.1 174.0L773.8 174.9L774.6 175.9L775.4 176.8L776.1 177.7L776.9 178.6L777.7 179.5L778.4 180.4L779.2 181.3L779.9 182.3L780.7 183.2L781.4 184.1L782.2 185.0L782.9 186.0L783.7 186.9L784.4 187.8L785.2 188.8L785.9 189.7L786.7 190.6L787.4 191.6L788.2 192.5L788.9 193.4L789.7 194.4L790.4 195.3L791.2 196.2L791.9 197.2L792.7 198.1L793.4 199.1L794.2 200.0L794.9 201.0L795.7 201.9L796.4 202.9L797.2 203.8L797.9 204.7L798.7 205.7L799.4 206.6L800.1 207.6L800.9 208.5L801.6 209.5L802.4 210.4L803.1 211.4L803.9 212.3L804.6 213.3L805.4 214.2L806.1 215.1L806.9 216.1L807.7 217.0L808.4 218.0L809.2 218.9L809.9 219.8L810.7 220.8L811.4 221.7L812.2 222.7L813.0 223.6L813.7 224.5L814.5 225.5L815.2 226.4L816.0 227.3L816.8 228.3L817.6 229.2L818.3 230.1L819.1 231.0L819.9 232.0L820.6 232.9L821.4 233.8L822.2 234.7L823.0 235.6L823.8 236.5L824.5 237.5L825.3 238.4L826.1 239.3L826.9 240.2L827.7 241.1L828.5 242.0L829.3 242.9L830.1 243.8L830.9 244.7L831.7 245.5L832.5 246.4L833.3 247.3L834.1 248.2L834.9 249.1L835.7 250.0L836.6 250.8L837.4 251.7L838.2 252.6L839.0 253.5L839.8 254.3L840.6 255.2L841.5 256.1L842.3 256.9L843.1 257.8L843.9 258.7L844.8 259.5L845.6 260.4L846.4 261.2L847.3 262.1L848.1 263.0L848.9 263.8L849.8 264.7L850.6 265.5L851.4 266.4L852.3 267.2L853.1 268.1L853.9 268.9L854.8 269.8L855.6 270.6L856.5 271.5L857.3 272.3L858.2 273.2L859.0 274.0L859.8 274.9L860.7 275.7L861.5 276.6L862.4 277.4L863.2 278.3L864.1 279.1L864.9 280.0L865.8 280.8L866.6 281.7L867.4 282.5L868.3 283.4L869.1 284.2L870.0 285.1L870.8 285.9L871.7 286.8L872.5 287.7L873.4 288.5L874.2 289.4L875.1 290.2L875.9 291.1L876.7 291.9L877.6 292.8L878.4 293.6L879.3 294.5L880.1 295.4L881.0 296.2L881.8 297.1L882.6 298.0L883.5 298.8L884.3 299.7L884.6 300.0" fill="none" stroke="#C00000" stroke-width="3.2" stroke-linejoin="round"/>
<path d="M24.2 284.2L25.4 284.2L26.6 284.2L27.8 284.2L29.0 284.2L30.2 284.2L31.4 284.2L32.6 284.2L33.8 284.2L35.0 284.2L36.1 284.2L37.3 284.2L38.5 284.2L39.7 284.2L40.9 284.2L42.1 284.2L43.3 284.2L44.5 284.2L45.7 284.2L46.9 284.2L48.1 284.2L49.3 284.2L50.5 284.2L51.7 284.2L52.9 284.2L54.1 284.2L55.3 284.2L56.5 284.2L57.7 284.2L59.0 284.1L60.2 284.1L61.4 284.1L62.6 284.1L63.8 284.1L65.0 284.1L66.2 284.1L67.4 284.1L68.6 284.1L69.8 284.0L71.0 284.0L72.2 284.0L73.4 284.0L74.6 283.9L75.8 283.9L77.0 283.9L78.2 283.8L79.4 283.8L80.6 283.8L81.8 283.7L83.0 283.7L84.2 283.6L85.4 283.5L86.6 283.5L87.8 283.4L89.0 283.4L90.2 283.3L91.4 283.2L92.6 283.1L93.8 283.0L95.0 283.0L96.2 282.9L97.4 282.8L98.6 282.7L99.8 282.6L101.0 282.4L102.2 282.3L103.4 282.2L104.6 282.1L105.8 281.9L107.0 281.8L108.2 281.7L109.4 281.5L110.6 281.3L111.7 281.2L112.9 281.0L114.1 280.8L115.3 280.7L116.5 280.5L117.7 280.3L118.8 280.1L120.0 279.9L121.2 279.7L122.4 279.4L123.6 279.2L124.7 279.0L125.9 278.7L127.1 278.5L128.3 278.2L129.4 278.0L130.6 277.7L131.8 277.4L132.9 277.1L134.1 276.8L135.2 276.5L136.4 276.2L137.6 275.9L138.7 275.5L139.9 275.2L141.0 274.8L142.2 274.5L143.3 274.1L144.4 273.7L145.6 273.3L146.7 272.9L147.8 272.5L148.9 272.1L150.0 271.7L151.2 271.2L152.3 270.7L153.4 270.3L154.4 269.8L155.5 269.3L156.6 268.8L157.7 268.3L158.7 267.7L159.8 267.2L160.9 266.6L161.9 266.1L162.9 265.5L164.0 264.9L165.0 264.3L166.0 263.6L167.0 263.0L168.0 262.3L169.0 261.7L169.9 261.0L170.9 260.3L171.9 259.6L172.8 258.8L173.7 258.1L174.7 257.4L175.6 256.6L176.5 255.8L177.4 255.0L178.3 254.3L179.2 253.5L180.1 252.6L181.0 251.8L181.9 251.0L182.7 250.2L183.6 249.3L184.5 248.5L185.3 247.6L186.2 246.7L187.0 245.9L187.8 245.0L188.7 244.1L189.5 243.2L190.3 242.3L191.1 241.4L191.9 240.5L192.7 239.6L193.5 238.7L194.3 237.8L195.1 236.8L195.8 235.9L196.6 235.0L197.4 234.1L198.2 233.1L198.9 232.2L199.7 231.3L200.4 230.3L201.2 229.4L201.9 228.5L202.7 227.5L203.4 226.6L204.2 225.7L204.9 224.7L205.6 223.8L206.3 222.8L207.0 221.9L207.8 220.9L208.5 219.9L209.2 219.0L209.8 218.0L210.5 217.0L211.2 216.1L211.9 215.1L212.6 214.1L213.2 213.1L213.9 212.1L214.5 211.2L215.2 210.2L215.8 209.2L216.5 208.1L217.1 207.1L217.7 206.1L218.3 205.1L219.0 204.1L219.6 203.0L220.2 202.0L220.7 201.0L221.3 199.9L221.9 198.9L222.5 197.8L223.1 196.8L223.6 195.7L224.2 194.7L224.8 193.6L225.3 192.5L225.9 191.5L226.4 190.4L227.0 189.3L227.6 188.3L228.1 187.2L228.7 186.1L229.2 185.1L229.8 184.0L230.3 182.9L230.9 181.8L231.5 180.8L232.0 179.7L232.6 178.6L233.2 177.6L233.7 176.5L234.3 175.5L234.9 174.4L235.5 173.4L236.1 172.3L236.7 171.3L237.3 170.2L237.9 169.2L238.5 168.2L239.1 167.1L239.8 166.1L240.4 165.1L241.1 164.1L241.7 163.1L242.4 162.1L243.1 161.1L243.7 160.1L244.4 159.1L245.2 158.2L245.9 157.2L246.6 156.3L247.3 155.3L248.1 154.4L248.9 153.4L249.6 152.5L250.4 151.6L251.2 150.7L252.1 149.8L252.9 149.0L253.7 148.1L254.6 147.2L255.4 146.4L256.3 145.6L257.2 144.7L258.1 143.9L259.0 143.1L259.9 142.3L260.9 141.6L261.8 140.8L262.8 140.1L263.7 139.4L264.7 138.6L265.7 137.9L266.7 137.3L267.7 136.6L268.7 135.9L269.7 135.3L270.7 134.7L271.8 134.1L272.8 133.5L273.9 132.9L274.9 132.4L276.0 131.8L277.1 131.3L278.2 130.8L279.3 130.3L280.3 129.9L281.4 129.5L282.6 129.0L283.7 128.6L284.8 128.3L285.9 127.9L287.0 127.6L288.2 127.2L289.3 126.9L290.5 126.7L291.6 126.4L292.8 126.2L293.9 126.0L295.1 125.8L296.3 125.6L297.4 125.5L298.6 125.4L299.8 125.3L301.0 125.2L302.1 125.2L303.3 125.1L304.5 125.1L305.7 125.1L306.9 125.1L308.1 125.2L309.3 125.2L310.5 125.3L311.7 125.4L312.9 125.5L314.1 125.6L315.3 125.7L316.5 125.8L317.7 126.0L318.9 126.2L320.1 126.3L321.3 126.5L322.5 126.7L323.7 127.0L324.9 127.2L326.1 127.4L327.3 127.6L328.5 127.9L329.7 128.1L330.9 128.4L332.1 128.7L333.3 129.0L334.5 129.2L335.7 129.5L336.9 129.8L338.1 130.1L339.3 130.4L340.4 130.7L341.6 131.1L342.8 131.4L344.0 131.7L345.1 132.1L346.3 132.4L347.5 132.8L348.6 133.1L349.8 133.5L350.9 133.9L352.1 134.3L353.2 134.7L354.3 135.1L355.5 135.5L356.6 135.9L357.7 136.3L358.8 136.8L359.9 137.2L361.0 137.7L362.1 138.2L363.2 138.7L364.3 139.2L365.3 139.7L366.4 140.2L367.5 140.7L368.5 141.3L369.6 141.8L370.6 142.4L371.6 142.9L372.7 143.5L373.7 144.1L374.7 144.7L375.7 145.3L376.7 146.0L377.7 146.6L378.7 147.2L379.7 147.9L380.7 148.5L381.7 149.2L382.6 149.9L383.6 150.6L384.6 151.3L385.5 152.0L386.5 152.7L387.4 153.4L388.4 154.1L389.3 154.8L390.2 155.6L391.2 156.3L392.1 157.1L393.0 157.8L393.9 158.6L394.8 159.3L395.7 160.1L396.6 160.9L397.5 161.7L398.4 162.5L399.3 163.3L400.2 164.1L401.1 164.9L402.0 165.7L402.9 166.5L403.8 167.3L404.7 168.1L405.5 168.9L406.4 169.8L407.3 170.6L408.2 171.4L409.0 172.3L409.9 173.1L410.8 173.9L411.6 174.8L412.5 175.6L413.3 176.5L414.2 177.3L415.1 178.2L415.9 179.0L416.8 179.9L417.6 180.7L418.5 181.6L419.3 182.4L420.2 183.3L421.0 184.2L421.9 185.0L422.7 185.9L423.6 186.7L424.4 187.6L425.3 188.5L426.1 189.3L427.0 190.2L427.8 191.0L428.7 191.9L429.5 192.8L430.4 193.6L431.3 194.5L432.1 195.3L433.0 196.2L433.8 197.0L434.7 197.9L435.5 198.7L436.4 199.6L437.2 200.4L438.1 201.3L439.0 202.1L439.8 203.0L440.7 203.8L441.5 204.7L442.4 205.5L443.3 206.3L444.2 207.1L445.0 208.0L445.9 208.8L446.8 209.6L447.7 210.4L448.5 211.2L449.4 212.1L450.3 212.9L451.2 213.7L452.1 214.5L453.0 215.3L453.9 216.0L454.8 216.8L455.7 217.6L456.6 218.4L457.5 219.2L458.4 219.9L459.4 220.7L460.3 221.4L461.2 222.2L462.1 222.9L463.1 223.7L464.0 224.4L464.9 225.1L465.9 225.9L466.8 226.6L467.8 227.3L468.8 228.0L469.7 228.7L470.7 229.4L471.7 230.0L472.6 230.7L473.6 231.4L474.6 232.0L475.6 232.7L476.6 233.3L477.6 234.0L478.6 234.6L479.6 235.2L480.6 235.9L481.7 236.5L482.7 237.1L483.7 237.7L484.8 238.2L485.8 238.8L486.9 239.4L488.0 239.9L489.0 240.5L490.1 241.0L491.2 241.5L492.3 242.1L493.4 242.6L494.5 243.1L495.6 243.6L496.7 244.0L497.8 244.5L498.9 245.0L500.1 245.4L501.2 245.8L502.3 246.3L503.5 246.7L504.6 247.1L505.8 247.5L506.9 247.8L508.1 248.2L509.2 248.5L510.4 248.9L511.6 249.2L512.8 249.5L513.9 249.8L515.1 250.1L516.3 250.4L517.5 250.6L518.7 250.8L519.8 251.1L521.0 251.3L522.2 251.5L523.4 251.6L524.6 251.8L525.8 252.0L527.0 252.1L528.2 252.2L529.4 252.3L530.6 252.4L531.8 252.4L533.0 252.5L534.2 252.5L535.4 252.5L536.5 252.5L537.7 252.5L538.9 252.4L540.1 252.4L541.3 252.3L542.5 252.2L543.7 252.1L544.8 251.9L546.0 251.8L547.2 251.6L548.4 251.4L549.5 251.2L550.7 251.0L551.9 250.7L553.0 250.4L554.2 250.1L555.3 249.8L556.5 249.5L557.6 249.1L558.8 248.8L559.9 248.4L561.0 248.0L562.2 247.6L563.3 247.2L564.4 246.7L565.6 246.3L566.7 245.9L567.8 245.4L568.9 244.9L570.0 244.5L571.2 244.0L572.3 243.5L573.4 243.0L574.5 242.5L575.6 242.0L576.7 241.5L577.8 241.0L578.9 240.5L580.0 240.0L581.1 239.5L582.2 239.0L583.3 238.5L584.4 238.0L585.4 237.5L586.5 237.0L587.6 236.5L588.7 236.0L589.8 235.5L590.8 235.0L591.9 234.5L593.0 234.0L594.1 233.4L595.2 232.9L596.2 232.4L597.3 231.9L598.4 231.3L599.4 230.8L600.5 230.3L601.6 229.7L602.6 229.2L603.7 228.6L604.8 228.1L605.8 227.5L606.9 227.0L608.0 226.4L609.0 225.9L610.1 225.3L611.2 224.8L612.2 224.2L613.3 223.7L614.4 223.1L615.4 222.6L616.5 222.0L617.6 221.5L618.6 220.9L619.7 220.4L620.8 219.8L621.9 219.3L623.0 218.8L624.0 218.3L625.1 217.7L626.2 217.2L627.3 216.7L628.4 216.2L629.5 215.8L630.6 215.3L631.7 214.8L632.8 214.3L633.9 213.9L635.1 213.4L636.2 213.0L637.3 212.6L638.4 212.2L639.6 211.8L640.7 211.4L641.8 211.0L643.0 210.6L644.1 210.3L645.3 209.9L646.5 209.6L647.6 209.3L648.8 209.0L650.0 208.7L651.2 208.4L652.3 208.2L653.5 207.9L654.7 207.7L655.9 207.5L657.1 207.3L658.3 207.1L659.5 206.9L660.6 206.8L661.8 206.7L663.0 206.5L664.2 206.4L665.4 206.4L666.6 206.3L667.8 206.2L669.0 206.2L670.2 206.2L671.4 206.2L672.6 206.2L673.8 206.2L675.0 206.3L676.1 206.4L677.3 206.5L678.5 206.6L679.7 206.7L680.8 206.8L682.0 207.0L683.2 207.2L684.3 207.4L685.5 207.6L686.6 207.9L687.8 208.2L688.9 208.4L690.1 208.8L691.2 209.1L692.3 209.4L693.4 209.8L694.6 210.2L695.7 210.6L696.8 211.1L697.9 211.5L699.0 212.0L700.1 212.5L701.1 213.0L702.2 213.5L703.3 214.0L704.4 214.5L705.4 215.1L706.5 215.7L707.6 216.2L708.6 216.8L709.7 217.4L710.7 218.0L711.8 218.6L712.9 219.2L713.9 219.8L715.0 220.4L716.0 221.1L717.1 221.7L718.1 222.3L719.2 222.9L720.2 223.6L721.3 224.2L722.3 224.8L723.4 225.4L724.4 226.1L725.5 226.7L726.5 227.3L727.6 227.9L728.6 228.5L729.7 229.1L730.8 229.7L731.8 230.3L732.9 230.8L734.0 231.4L735.0 232.0L736.1 232.5L737.2 233.0L738.2 233.6L739.3 234.1L740.4 234.6L741.5 235.2L742.6 235.7L743.7 236.2L744.7 236.7L745.8 237.2L746.9 237.7L748.0 238.1L749.1 238.6L750.2 239.1L751.3 239.6L752.4 240.0L753.5 240.5L754.6 240.9L755.7 241.4L756.8 241.8L757.9 242.3L759.0 242.7L760.1 243.1L761.3 243.6L762.4 244.0L763.5 244.4L764.6 244.8L765.7 245.2L766.8 245.6L768.0 246.0L769.1 246.4L770.2 246.8L771.3 247.2L772.5 247.6L773.6 248.0L774.7 248.4L775.8 248.8L777.0 249.2L778.1 249.6L779.2 249.9L780.4 250.3L781.5 250.7L782.6 251.1L783.8 251.5L784.9 251.8L786.0 252.2L787.2 252.6L788.3 252.9L789.5 253.3L790.6 253.7L791.7 254.0L792.9 254.4L794.0 254.8L795.2 255.1L796.3 255.5L797.5 255.8L798.6 256.2L799.8 256.6L800.9 256.9L802.1 257.3L803.2 257.6L804.4 258.0L805.5 258.3L806.6 258.7L807.8 259.0L809.0 259.4L810.1 259.7L811.3 260.1L812.4 260.4L813.6 260.8L814.7 261.1L815.9 261.5L817.0 261.8L818.2 262.2L819.3 262.5L820.5 262.9L821.6 263.2L822.8 263.6L823.9 263.9L825.1 264.3L826.2 264.6L827.4 265.0L828.5 265.3L829.7 265.7L830.9 266.0L832.0 266.4L833.2 266.7L834.3 267.1L835.5 267.4L836.6 267.8L837.8 268.1L838.9 268.5L840.1 268.8L841.2 269.2L842.4 269.5L843.5 269.9L844.7 270.2L845.8 270.6L847.0 270.9L848.1 271.3L849.3 271.6L850.4 272.0L851.6 272.4L852.7 272.7L853.9 273.1L855.0 273.4L856.2 273.8L857.3 274.2L858.4 274.5L859.6 274.9L860.7 275.3L861.9 275.6L863.0 276.0L864.1 276.4L865.3 276.7L866.4 277.1L867.6 277.5L868.7 277.9L869.8 278.2L871.0 278.6L872.1 279.0L873.2 279.4L874.4 279.8L875.5 280.1L876.6 280.5L877.8 280.9L878.9 281.3L880.0 281.7L881.1 282.1L882.3 282.5L883.4 282.9L884.5 283.3L884.6 283.2" fill="none" stroke="#0070C0" stroke-width="3.2" stroke-linejoin="round"/>
<path d="M25.50 396.90 Q22.86 399.26 21.63 402.16 A4.80 4.80 0 1 0 29.37 402.16 Q28.14 399.26 25.50 396.90Z" fill="#000"/><path d="M27.67 402.95 A3.07 3.07 0 0 1 26.50 408.27 A6.14 6.14 0 0 0 27.67 402.95Z" fill="#fff" stroke="#fff" stroke-width="0.25"/>
<path d="M51.55 396.90 Q48.91 399.26 47.68 402.16 A4.80 4.80 0 1 0 55.42 402.16 Q54.19 399.26 51.55 396.90Z" fill="#000"/><path d="M53.72 402.95 A3.07 3.07 0 0 1 52.55 408.27 A6.14 6.14 0 0 0 53.72 402.95Z" fill="#fff" stroke="#fff" stroke-width="0.25"/>
<path d="M77.60 396.90 Q74.96 399.26 73.73 402.16 A4.80 4.80 0 1 0 81.47 402.16 Q80.24 399.26 77.60 396.90Z" fill="#000"/><path d="M79.77 402.95 A3.07 3.07 0 0 1 78.60 408.27 A6.14 6.14 0 0 0 79.77 402.95Z" fill="#fff" stroke="#fff" stroke-width="0.25"/>
<path d="M103.65 396.90 Q101.01 399.26 99.78 402.16 A4.80 4.80 0 1 0 107.52 402.16 Q106.29 399.26 103.65 396.90Z" fill="#000"/><path d="M105.82 402.95 A3.07 3.07 0 0 1 104.65 408.27 A6.14 6.14 0 0 0 105.82 402.95Z" fill="#fff" stroke="#fff" stroke-width="0.25"/>
<path d="M129.70 396.90 Q127.06 399.26 125.83 402.16 A4.80 4.80 0 1 0 133.57 402.16 Q132.34 399.26 129.70 396.90Z" fill="#000"/><path d="M131.87 402.95 A3.07 3.07 0 0 1 130.70 408.27 A6.14 6.14 0 0 0 131.87 402.95Z" fill="#fff" stroke="#fff" stroke-width="0.25"/>
<line x1="44.7" y1="448.9" x2="72.4" y2="448.9" stroke="#0070C0" stroke-width="3.4"/>
<line x1="162.4" y1="448.9" x2="190.4" y2="448.9" stroke="#C00000" stroke-width="3.4"/>
<line x1="314.0" y1="449.0" x2="339.5" y2="449.0" stroke="#0070C0" stroke-width="3.4" stroke-dasharray="3.4 3.94"/>
<line x1="572.0" y1="449.4" x2="597.5" y2="449.4" stroke="#C00000" stroke-width="3.4" stroke-dasharray="3.4 3.94"/>
<path d="M775.30 442.00 Q772.66 444.37 771.43 447.26 A4.80 4.80 0 1 0 779.17 447.26 Q777.94 444.37 775.30 442.00Z" fill="#000"/><path d="M777.47 448.05 A3.07 3.07 0 0 1 776.30 453.37 A6.14 6.14 0 0 0 777.47 448.05Z" fill="#fff" stroke="#fff" stroke-width="0.25"/>
<text x="27.08" y="38.2" font-family="Liberation Serif, serif" font-weight="bold" font-size="18.0" textLength="119.30" lengthAdjust="spacingAndGlyphs" fill="#000">Early Follicular</text>
<text x="195.00" y="38.2" font-family="Liberation Serif, serif" font-weight="bold" font-size="18.0" textLength="112.56" lengthAdjust="spacingAndGlyphs" fill="#000">Late Follicular</text>
<text x="363.28" y="38.2" font-family="Liberation Serif, serif" font-weight="bold" font-size="18.0" textLength="79.93" lengthAdjust="spacingAndGlyphs" fill="#000">Ovulatory</text>
<text x="479.54" y="38.2" font-family="Liberation Serif, serif" font-weight="bold" font-size="18.0" textLength="92.86" lengthAdjust="spacingAndGlyphs" fill="#000">Early Luteal</text>
<text x="616.46" y="38.2" font-family="Liberation Serif, serif" font-weight="bold" font-size="18.0" textLength="85.93" lengthAdjust="spacingAndGlyphs" fill="#000">Mid Luteal</text>
<text x="768.64" y="38.2" font-family="Liberation Serif, serif" font-weight="bold" font-size="18.0" textLength="86.49" lengthAdjust="spacingAndGlyphs" fill="#000">Late Luteal</text>
<text x="20.52" y="391.0" font-family="Liberation Serif, serif" font-size="18.2" textLength="8.92" lengthAdjust="spacingAndGlyphs" fill="#000">1</text>
<text x="46.64" y="391.0" font-family="Liberation Serif, serif" font-size="18.2" textLength="9.91" lengthAdjust="spacingAndGlyphs" fill="#000">2</text>
<text x="72.76" y="391.0" font-family="Liberation Serif, serif" font-size="18.2" textLength="9.20" lengthAdjust="spacingAndGlyphs" fill="#000">3</text>
<text x="99.68" y="391.0" font-family="Liberation Serif, serif" font-size="18.2" textLength="7.43" lengthAdjust="spacingAndGlyphs" fill="#000">4</text>
<text x="123.70" y="391.0" font-family="Liberation Serif, serif" font-size="18.2" textLength="10.75" lengthAdjust="spacingAndGlyphs" fill="#000">5</text>
<text x="149.82" y="391.0" font-family="Liberation Serif, serif" font-size="18.2" textLength="10.05" lengthAdjust="spacingAndGlyphs" fill="#000">6</text>
<text x="175.14" y="391.0" font-family="Liberation Serif, serif" font-size="18.2" textLength="10.75" lengthAdjust="spacingAndGlyphs" fill="#000">7</text>
<text x="202.00" y="391.0" font-family="Liberation Serif, serif" font-size="18.2" textLength="8.71" lengthAdjust="spacingAndGlyphs" fill="#000">8</text>
<text x="227.26" y="391.0" font-family="Liberation Serif, serif" font-size="18.2" textLength="9.89" lengthAdjust="spacingAndGlyphs" fill="#000">9</text>
<text x="252.96" y="391.0" font-family="Liberation Serif, serif" font-size="18.2" textLength="18.42" lengthAdjust="spacingAndGlyphs" fill="#000">10</text>
<text x="287.52" y="391.0" font-family="Liberation Serif, serif" font-size="18.2" textLength="18.09" lengthAdjust="spacingAndGlyphs" fill="#000">11</text>
<text x="322.08" y="391.0" font-family="Liberation Serif, serif" font-size="18.2" textLength="17.18" lengthAdjust="spacingAndGlyphs" fill="#000">12</text>
<text x="356.52" y="391.0" font-family="Liberation Serif, serif" font-size="18.2" textLength="18.09" lengthAdjust="spacingAndGlyphs" fill="#000">13</text>
<text x="391.08" y="391.0" font-family="Liberation Serif, serif" font-size="18.2" textLength="17.06" lengthAdjust="spacingAndGlyphs" fill="#000">14</text>
<text x="424.84" y="391.0" font-family="Liberation Serif, serif" font-size="18.2" textLength="18.41" lengthAdjust="spacingAndGlyphs" fill="#000">15</text>
<text x="460.08" y="391.0" font-family="Liberation Serif, serif" font-size="18.2" textLength="17.06" lengthAdjust="spacingAndGlyphs" fill="#000">16</text>
<text x="493.84" y="391.0" font-family="Liberation Serif, serif" font-size="18.2" textLength="18.41" lengthAdjust="spacingAndGlyphs" fill="#000">17</text>
<text x="528.40" y="391.0" font-family="Liberation Serif, serif" font-size="18.2" textLength="18.36" lengthAdjust="spacingAndGlyphs" fill="#000">18</text>
<text x="562.90" y="391.0" font-family="Liberation Serif, serif" font-size="18.2" textLength="18.39" lengthAdjust="spacingAndGlyphs" fill="#000">19</text>
<text x="597.82" y="391.0" font-family="Liberation Serif, serif" font-size="18.2" textLength="17.94" lengthAdjust="spacingAndGlyphs" fill="#000">20</text>
<text x="632.38" y="391.0" font-family="Liberation Serif, serif" font-size="18.2" textLength="17.29" lengthAdjust="spacingAndGlyphs" fill="#000">21</text>
<text x="666.82" y="391.0" font-family="Liberation Serif, serif" font-size="18.2" textLength="17.49" lengthAdjust="spacingAndGlyphs" fill="#000">22</text>
<text x="701.38" y="391.0" font-family="Liberation Serif, serif" font-size="18.2" textLength="17.53" lengthAdjust="spacingAndGlyphs" fill="#000">23</text>
<text x="735.94" y="391.0" font-family="Liberation Serif, serif" font-size="18.2" textLength="16.71" lengthAdjust="spacingAndGlyphs" fill="#000">24</text>
<text x="770.32" y="391.0" font-family="Liberation Serif, serif" font-size="18.2" textLength="16.88" lengthAdjust="spacingAndGlyphs" fill="#000">25</text>
<text x="804.38" y="391.0" font-family="Liberation Serif, serif" font-size="18.2" textLength="17.66" lengthAdjust="spacingAndGlyphs" fill="#000">26</text>
<text x="839.50" y="391.0" font-family="Liberation Serif, serif" font-size="18.2" textLength="17.30" lengthAdjust="spacingAndGlyphs" fill="#000">27</text>
<text x="873.26" y="391.0" font-family="Liberation Serif, serif" font-size="18.2" textLength="17.95" lengthAdjust="spacingAndGlyphs" fill="#000">28</text>
<text x="77.64" y="454.0" font-family="Liberation Serif, serif" font-size="15.4" textLength="56.77" lengthAdjust="spacingAndGlyphs" fill="#000">Estrogen</text>
<text x="194.10" y="454.0" font-family="Liberation Serif, serif" font-size="15.4" textLength="84.74" lengthAdjust="spacingAndGlyphs" fill="#000">Progesterone</text>
<text x="345.74" y="454.0" font-family="Liberation Serif, serif" font-size="15.4" textLength="193.36" lengthAdjust="spacingAndGlyphs" fill="#000">Follicle Stimulating Hormone</text>
<text x="603.18" y="454.0" font-family="Liberation Serif, serif" font-size="15.4" textLength="139.38" lengthAdjust="spacingAndGlyphs" fill="#000">Luteinising Hormone</text>
<text x="783.74" y="454.0" font-family="Liberation Serif, serif" font-size="15.4" textLength="87.47" lengthAdjust="spacingAndGlyphs" fill="#000">Menstruation</text>
</svg></body></html>
